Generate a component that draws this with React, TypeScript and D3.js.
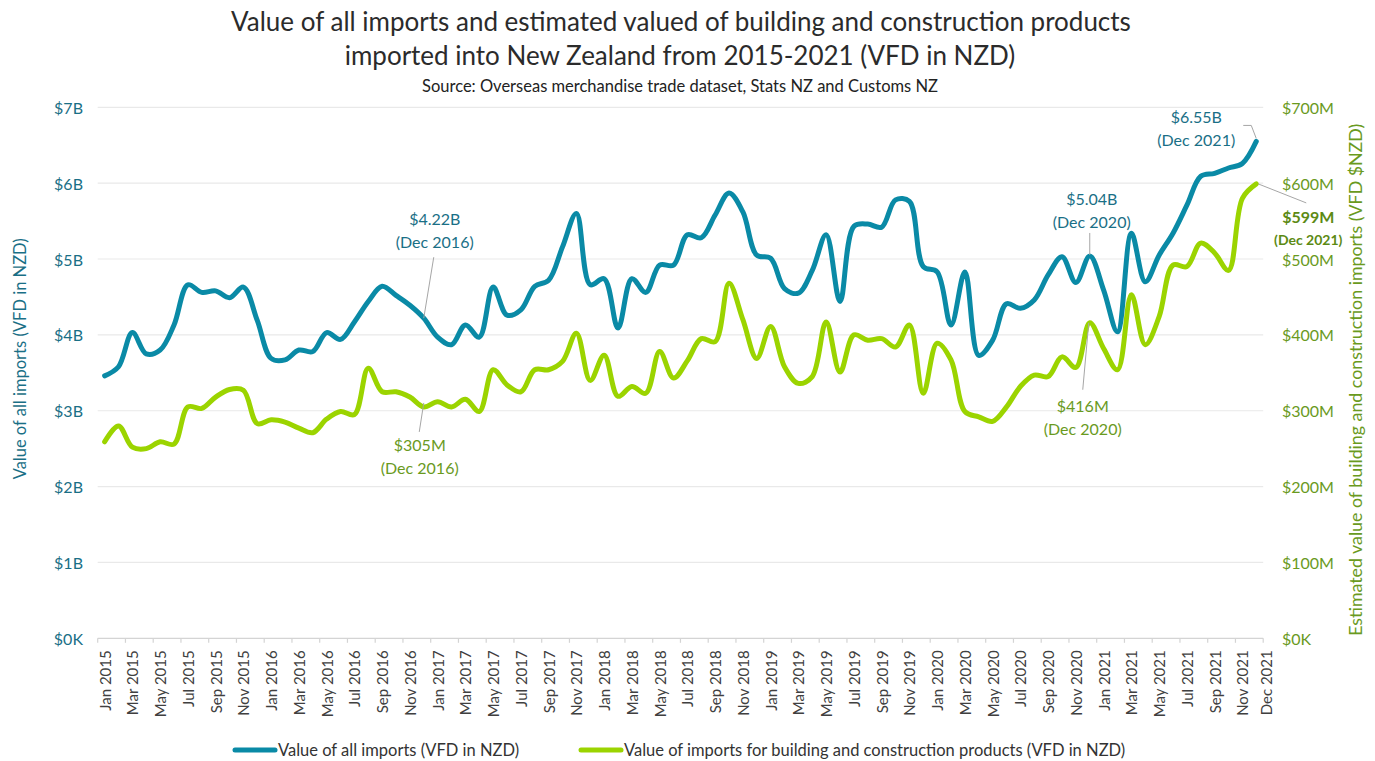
import React from 'react';
import * as d3 from 'd3';

// months Jan 2015 .. Dec 2021
const years = [2015, 2016, 2017, 2018, 2019, 2020, 2021];
const monthNames = ['Jan', 'Feb', 'Mar', 'Apr', 'May', 'Jun', 'Jul', 'Aug', 'Sep', 'Oct', 'Nov', 'Dec'];
const months: string[] = [];
years.forEach(y => monthNames.forEach(m => months.push(`${m} ${y}`)));

// value of all imports, $ billions
const allImports = [
  3.46, 3.58, 4.03, 3.75, 3.80, 4.13, 4.66, 4.56, 4.58, 4.49, 4.63, 4.19,
  3.69, 3.67, 3.80, 3.78, 4.03, 3.94, 4.17, 4.44, 4.64, 4.52, 4.39, 4.22,
  3.97, 3.87, 4.13, 3.97, 4.63, 4.26, 4.33, 4.64, 4.72, 5.16, 5.60, 4.66,
  4.74, 4.09, 4.74, 4.56, 4.92, 4.92, 5.32, 5.28, 5.58, 5.87, 5.62, 5.05,
  5.01, 4.61, 4.55, 4.85, 5.32, 4.44, 5.43, 5.46, 5.42, 5.78, 5.76, 4.90,
  4.83, 4.13, 4.83, 3.73, 3.93, 4.41, 4.35, 4.46, 4.79, 5.03, 4.69, 5.04,
  4.59, 4.04, 5.34, 4.70, 5.05, 5.34, 5.71, 6.09, 6.13, 6.20, 6.26, 6.55,
];

// building and construction imports, $ millions
const buildingImports = [
  259, 280, 252, 250, 259, 256, 305, 303, 318, 328, 327, 283,
  288, 285, 277, 271, 289, 299, 295, 356, 325, 325, 318, 305,
  312, 305, 315, 299, 354, 334, 325, 354, 354, 365, 402, 340,
  373, 319, 332, 323, 378, 343, 366, 395, 391, 468, 420, 369,
  411, 358, 336, 345, 417, 351, 400, 393, 395, 384, 413, 323,
  389, 367, 299, 292, 286, 305, 332, 347, 345, 371, 357, 416,
  382, 354, 453, 387, 424, 492, 490, 521, 508, 485, 580, 599,
];

const leftTicks = [0, 1, 2, 3, 4, 5, 6, 7];
const leftTickLabels = ['$0K', '$1B', '$2B', '$3B', '$4B', '$5B', '$6B', '$7B'];
const rightTicks = [0, 100, 200, 300, 400, 500, 600, 700];
const rightTickLabels = ['$0K', '$100M', '$200M', '$300M', '$400M', '$500M', '$600M', '$700M'];

const BLUE = '#0a8aa6';
const GREEN = '#9bd400';
const BLUE_TEXT = '#1a6f86';
const GREEN_TEXT = '#6a9a1e';
const FONT = 'Lato, "Open Sans", sans-serif';

const W = 1375, H = 761;
const left = 97.7, right = 1263.2, top = 107.3, bottom = 638.3;

const x = d3.scaleBand<string>().domain(months).range([left, right]).paddingInner(0).paddingOuter(0);
const bw = x.bandwidth();
const cx = (i: number) => (x(months[i]) as number) + bw / 2;
const yL = d3.scaleLinear().domain([0, 7]).range([bottom, top]);
const yR = d3.scaleLinear().domain([0, 700]).range([bottom, top]);

const blueLine = d3.line<number>().x((_, i) => cx(i)).y(d => yL(d)).curve(d3.curveCatmullRom.alpha(0.5));
const greenLine = d3.line<number>().x((_, i) => cx(i)).y(d => yR(d)).curve(d3.curveCatmullRom.alpha(0.5));

// annotation: month index, series, label lines, label offset, leader path offsets
const annotations = [
  { i: 23, s: 'b', lines: ['$4.22B', '(Dec 2016)'], dx: 11, dy: -100, leader: [[10, -61], [0, 0]], bold: false },
  { i: 23, s: 'g', lines: ['$305M', '(Dec 2016)'], dx: -4, dy: 38, leader: [[0, -4], [-4.5, 25]], bold: false },
  { i: 71, s: 'b', lines: ['$5.04B', '(Dec 2020)'], dx: 2, dy: -57, leader: [[0, -1], [0, -23]], bold: false },
  { i: 71, s: 'g', lines: ['$416M', '(Dec 2020)'], dx: -7, dy: 83, leader: [[-1, 0], [-7, 67]], bold: false },
  { i: 83, s: 'b', lines: ['$6.55B', '(Dec 2021)'], dx: -60, dy: -25, leader: [[0, -3], [-5, -16], [-13, -16]], bold: false },
  { i: 83, s: 'g', lines: ['$599M', '(Dec 2021)'], dx: 52, dy: 33, leader: [[2, 0], [50, 19]], bold: true },
];

export default function App() {
  return (
    <svg width={W} height={H} style={{ position: 'absolute', left: 0, top: 0, background: '#fff' }} fontFamily={FONT}>
      {/* title */}
      <text x={681} y={31} textAnchor="middle" fontSize={26} fill="#2b2b2b">
        Value of all imports and estimated valued of building and construction products
      </text>
      <text x={680} y={65} textAnchor="middle" fontSize={26} fill="#2b2b2b">
        imported into New Zealand from 2015-2021 (VFD in NZD)
      </text>
      <text x={680} y={91.5} textAnchor="middle" fontSize={16.5} fill="#222">
        Source: Overseas merchandise trade dataset, Stats NZ and Customs NZ
      </text>

      {/* gridlines */}
      {leftTicks.slice(1).map(t => (
        <line key={t} x1={left} x2={right} y1={yL(t)} y2={yL(t)} stroke="#e9e9e9" strokeWidth={1.2} />
      ))}
      <line x1={left} x2={right} y1={bottom} y2={bottom} stroke="#d4d4d4" strokeWidth={1.2} />

      {/* left axis labels */}
      {leftTicks.map((t, k) => (
        <text key={t} x={83} y={yL(t)} textAnchor="end" dominantBaseline="central" fontSize={16} fill={BLUE_TEXT}>
          {leftTickLabels[k]}
        </text>
      ))}
      {/* right axis labels */}
      {rightTicks.map((t, k) => (
        <text key={t} x={1282} y={yR(t)} textAnchor="start" dominantBaseline="central" fontSize={16} fill={GREEN_TEXT}>
          {rightTickLabels[k]}
        </text>
      ))}

      {/* axis titles */}
      <text transform={`translate(20,${(top + bottom) / 2 - 14}) rotate(-90)`} textAnchor="middle" dominantBaseline="central" fontSize={16.5} fill={BLUE_TEXT}>
        Value of all imports (VFD in NZD)
      </text>
      <text transform={`translate(1355,${(top + bottom) / 2 + 7}) rotate(-90)`} textAnchor="middle" dominantBaseline="central" fontSize={17.8} fill={GREEN_TEXT}>
        Estimated value of building and construction imports (VFD $NZD)
      </text>

      {/* x ticks */}
      {months.map((m, i) => i % 2 === 0 ? (
        <line key={m} x1={x(m)} x2={x(m)} y1={bottom} y2={bottom + 4.5} stroke="#d4d4d4" strokeWidth={1.2} />
      ) : null)}
      <line x1={right} x2={right} y1={bottom} y2={bottom + 4.5} stroke="#d4d4d4" strokeWidth={1.2} />
      {months.map((m, i) => {
        const last = i === months.length - 1;
        if (i % 2 !== 0 && !last) return null;
        const px = last ? right + 3 : cx(i);
        return (
          <text key={m} transform={`translate(${px},${bottom + 12}) rotate(-90)`} textAnchor="end" dominantBaseline="central" fontSize={15} fill="#404040">
            {m}
          </text>
        );
      })}

      {/* lines */}
      <path d={greenLine(buildingImports) || ''} fill="none" stroke={GREEN} strokeWidth={5} strokeLinejoin="round" strokeLinecap="round" />
      <path d={blueLine(allImports) || ''} fill="none" stroke={BLUE} strokeWidth={5} strokeLinejoin="round" strokeLinecap="round" />

      {/* annotations */}
      {annotations.map((a, k) => {
        const px = cx(a.i);
        const py = a.s === 'b' ? yL(allImports[a.i]) : yR(buildingImports[a.i]);
        const col = a.s === 'b' ? BLUE_TEXT : GREEN_TEXT;
        const path = d3.line()(a.leader.map(([u, v]) => [px + u, py + v] as [number, number])) || '';
        return (
          <g key={k}>
            <path d={path} fill="none" stroke="#a6a6a6" strokeWidth={1} />
            {a.lines.map((l, j) => (
              <text key={j} x={px + a.dx} y={py + a.dy + j * 23} textAnchor="middle" dominantBaseline="central"
                fontSize={a.bold ? (j === 0 ? 16 : 14) : 16} fontWeight={a.bold ? 700 : 400} fill={a.bold ? '#5c8a14' : col}>
                {l}
              </text>
            ))}
          </g>
        );
      })}

      {/* legend */}
      <line x1={235} x2={275} y1={750} y2={750} stroke={BLUE} strokeWidth={5} strokeLinecap="round" />
      <text x={278} y={750} dominantBaseline="central" fontSize={16.5} fill="#333">Value of all imports (VFD in NZD)</text>
      <line x1={581} x2={621} y1={750} y2={750} stroke={GREEN} strokeWidth={5} strokeLinecap="round" />
      <text x={624} y={750} dominantBaseline="central" fontSize={16.5} fill="#333">
        Value of imports for building and construction products (VFD in NZD)
      </text>
    </svg>
  );
}
